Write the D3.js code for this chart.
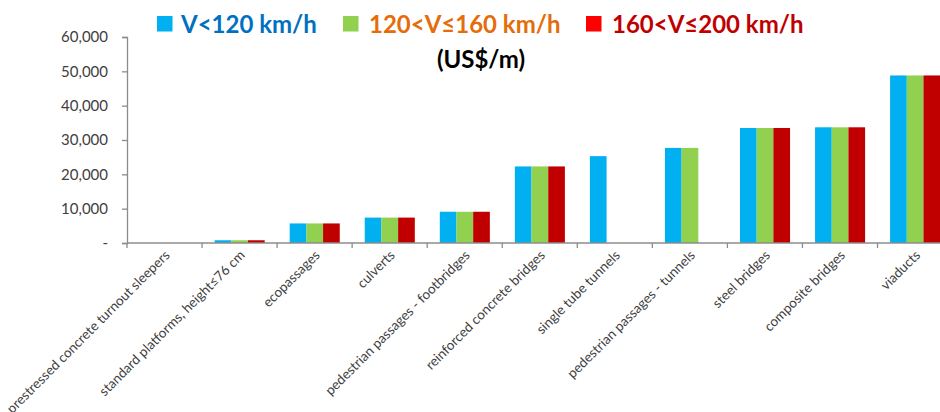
<!DOCTYPE html>
<html>
<head>
<meta charset="utf-8">
<script src="https://cdn.jsdelivr.net/npm/d3@7"></script>
<style>
  html, body { margin: 0; padding: 0; background: #fff; }
  svg { display: block; font-family: Lato, "Open Sans", sans-serif; }
</style>
</head>
<body>
<svg id="chart" width="940" height="412"></svg>
<script>
// Unit construction cost by structure type and design speed (US$/m)
const categories = [
  "prestressed concrete turnout sleepers",
  "standard platforms, height≤76 cm",
  "ecopassages",
  "culverts",
  "pedestrian passages - footbridges",
  "reinforced concrete bridges",
  "single tube tunnels",
  "pedestrian passages - tunnels",
  "steel bridges",
  "composite bridges",
  "viaducts"
];
const seriesNames = ["V<120 km/h", "120<V≤160 km/h", "160<V≤200 km/h"];
const speedLow  = [null, 800, 5700, 7400, 9100, 22300, 25300, 27700, 33500, 33700, 48800];
const speedMid  = [null, 800, 5700, 7400, 9100, 22300, null, 27700, 33500, 33700, 48800];
const speedHigh = [null, 800, 5700, 7400, 9100, 22300, null, null, 33500, 33700, 48800];
const yTicks = [0, 10000, 20000, 30000, 40000, 50000, 60000];

const barColors  = ["#00b0f0", "#92d050", "#c00000"];
const keyColors  = ["#00b0f0", "#92d050", "#ff0000"];
const textColors = ["#0070c0", "#e46c0a", "#c00000"];

const svg = d3.select("#chart");
const left = 127, zeroY = 243, topY = 37;
const step = 75.05;

const x = d3.scaleBand().domain(categories)
  .range([left, left + step * categories.length]).padding(0);
const inner = d3.scaleBand().domain(d3.range(seriesNames.length))
  .range([12.6, x.bandwidth() - 12.4]).padding(0);
const y = d3.scaleLinear().domain([0, 60000]).range([zeroY, topY]);

const rows = categories.map((c, i) => ({
  cat: c,
  vals: [speedLow[i], speedMid[i], speedHigh[i]]
}));

// bars
const groups = svg.append("g").selectAll("g").data(rows).join("g")
  .attr("transform", d => `translate(${x(d.cat)},0)`);
groups.selectAll("rect")
  .data(d => d.vals.map((v, k) => ({ v, k })).filter(e => e.v != null))
  .join("rect")
  .attr("x", e => inner(e.k))
  .attr("width", inner.bandwidth())
  .attr("y", e => y(e.v))
  .attr("height", e => y(0) - y(e.v))
  .attr("fill", e => barColors[e.k]);

// y axis
const yAxis = svg.append("g").attr("transform", `translate(${left},0)`)
  .call(d3.axisLeft(y).tickValues(yTicks).tickSize(5).tickPadding(14)
    .tickFormat(v => v === 0 ? "-" : d3.format(",")(v)));
yAxis.select(".domain").attr("stroke", "#8c8c8c").attr("stroke-width", 1.3);
yAxis.selectAll(".tick line").attr("stroke", "#8c8c8c").attr("stroke-width", 1.3);
yAxis.selectAll(".tick text").attr("fill", "#404040").style("font-size", "15px")
  .style("font-family", "Lato, sans-serif");

// x axis: baseline and tick marks at category boundaries
svg.append("line")
  .attr("x1", left).attr("x2", 940).attr("y1", zeroY).attr("y2", zeroY)
  .attr("stroke", "#8c8c8c").attr("stroke-width", 1.5);
svg.append("g").selectAll("line").data(categories).join("line")
  .attr("x1", d => x(d)).attr("x2", d => x(d))
  .attr("y1", zeroY).attr("y2", zeroY + 5)
  .attr("stroke", "#8c8c8c").attr("stroke-width", 1.3);

// rotated category labels
svg.append("g").selectAll("text").data(categories).join("text")
  .attr("transform", d => `translate(${x(d) + x.bandwidth() / 2 + 6},${zeroY + 13}) rotate(-45)`)
  .attr("text-anchor", "end")
  .attr("fill", "#404040")
  .style("font-size", "13.5px")
  .text(d => d);

// legend
const legendPos = [{ sq: 157, tx: 181 }, { sq: 343, tx: 369 }, { sq: 586, tx: 612 }];
const legend = svg.append("g").selectAll("g").data(seriesNames).join("g");
legend.append("rect")
  .attr("x", (d, i) => legendPos[i].sq).attr("y", 16)
  .attr("width", 15.5).attr("height", 15.5)
  .attr("fill", (d, i) => keyColors[i]);
legend.append("text")
  .attr("x", (d, i) => legendPos[i].tx).attr("y", 33)
  .attr("fill", (d, i) => textColors[i])
  .style("font-size", "24px").style("font-weight", "bold")
  .text(d => d);

// unit caption
svg.append("text")
  .attr("x", 481).attr("y", 68).attr("text-anchor", "middle")
  .attr("fill", "#000").style("font-size", "24px").style("font-weight", "bold")
  .text("(US$/m)");
</script>
</body>
</html>
